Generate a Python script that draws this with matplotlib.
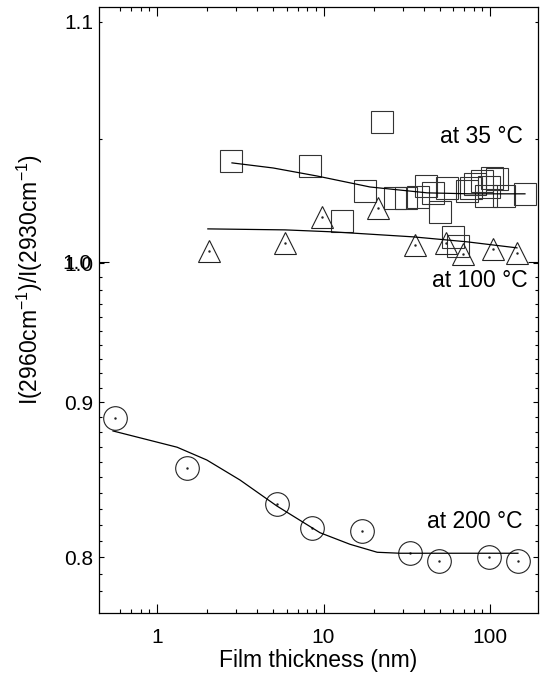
import numpy as np
import matplotlib
matplotlib.use('Agg')
import matplotlib.pyplot as plt

plt.rcParams['font.family'] = ['Liberation Sans', 'DejaVu Sans']
plt.rcParams['mathtext.fontset'] = 'custom'
plt.rcParams['mathtext.rm'] = 'Liberation Sans'

# 200 C (lower axis)
x200 = [0.559, 1.51, 5.25, 8.53, 17.0, 33.1, 49.5, 98.6, 147]
y200 = [0.8892, 0.8559, 0.8330, 0.8178, 0.8160, 0.8024, 0.7976, 0.8000, 0.7976]
fit200_x = [0.544, 1.32, 1.99, 3.15, 5.25, 9.53, 14.4, 21.0, 28.8, 147]
fit200_y = [0.8805, 0.8697, 0.8613, 0.8483, 0.8317, 0.8150, 0.8079, 0.8030, 0.8024, 0.8024]

# 35 C (upper axis)
x35 = [2.78, 8.30, 22.5, 17.8, 12.9, 26.9, 31.3, 36.9, 41.3, 50.1, 45.5, 55.2,
       59.9, 64.2, 72.8, 76.9, 81.3, 89.5, 94.6, 98.6, 102.8, 110.2, 121.4, 162.3]
y35 = [1.0409, 1.0389, 1.0572, 1.0286, 1.0164, 1.0257, 1.0257, 1.0261, 1.0306, 1.0200,
       1.0278, 1.0298, 1.0100, 1.0064, 1.0286, 1.0298, 1.0315, 1.0327, 1.0265, 1.0302,
       1.0339, 1.0335, 1.0265, 1.0274]
fit35_x = [2.82, 4.98, 9.13, 19.0, 41.9, 76.1, 162]
fit35_y = [1.0401, 1.0380, 1.0347, 1.0302, 1.0278, 1.0274, 1.0274]

# 100 C (upper axis)
x100 = [2.05, 5.87, 9.80, 21.2, 35.4, 54.4, 68.8, 104.2, 145]
y100 = [1.0044, 1.0076, 1.0180, 1.0217, 1.0068, 1.0076, 1.0032, 1.0052, 1.0036]
fit100_x = [2.02, 5.88, 11.4, 34.5, 72.9, 145]
fit100_y = [1.0132, 1.0128, 1.0120, 1.0100, 1.0080, 1.0056]

x_major = [1, 10, 100]
x_minor = [0.6, 0.7, 0.8, 0.9, 2, 3, 4, 5, 6, 7, 8, 9, 20, 30, 40, 50, 60, 70, 80, 90]

fig = plt.figure(figsize=(5.44, 6.75), dpi=100)
rect = [99 / 544, 62 / 675, 439 / 544, 606 / 675]
ax = fig.add_axes(rect)
ax2 = fig.add_axes(rect, sharex=ax)
ax2.patch.set_visible(False)
for s in ax2.spines.values():
    s.set_visible(False)

ink = '#222222'
mk = dict(mfc='none', mec=ink, mew=0.8, ls='none')

# lower axis: 200 C
ax.plot(x200, y200, marker='o', ms=17, **mk)
ax.plot(x200, y200, marker='.', ms=1.5, color=ink, ls='none')
ax.plot(fit200_x, fit200_y, color='black', lw=0.9)

ax.set_xscale('log')
ax.set_yscale('log')
ax.set_xlim(0.4484, 194)
ax.set_ylim(0.7668, 1.215)
ax.set_xticks(x_major, labels=['1', '10', '100'])
ax.set_xticks(x_minor, minor=True, labels=[])
ax.set_yticks([0.8, 0.9, 1.0], labels=['0.8', '0.9', '1.0'])
ax.set_yticks([v / 100 for v in range(78, 100) if v % 10], minor=True, labels=[])
ax.tick_params(which='both', direction='in', top=True, right=True, labelsize=15, colors='black')
ax.tick_params(axis='x', which='major', length=6.5, width=0.8, pad=11)
ax.tick_params(axis='x', which='minor', length=3, width=0.8)
ax.tick_params(axis='y', which='major', length=3.5, width=0.8, pad=4)
ax.tick_params(axis='y', which='minor', length=2, width=0.8)
for s in ax.spines.values():
    s.set_linewidth(0.9)

# upper axis: 35 C and 100 C
ax2.plot(x35, y35, marker='s', ms=16, **{**mk, 'mec': '#333333'})
ax2.plot(fit35_x, fit35_y, color='black', lw=0.9)
ax2.plot(x100, y100, marker='^', ms=16, **mk)
ax2.plot(x100, y100, marker='.', ms=1.5, color=ink, ls='none')
ax2.plot(fit100_x, fit100_y, color='black', lw=0.9)

ax2.set_yscale('log')
ax2.set_ylim(0.8699, 1.1065)
ax2.set_yticks([1.0], labels=['1.0'])
ax2.set_yticks([1.05, 1.1], labels=['', '1.1'], minor=True)
ax2.tick_params(axis='x', which='both', bottom=False, top=False, labelbottom=False)
ax2.tick_params(axis='y', which='both', direction='in', left=True, right=True, labelsize=15)
ax2.tick_params(axis='y', which='major', length=7, width=0.8, pad=5.5)
ax2.tick_params(axis='y', which='minor', length=2, width=0.8, pad=4)

ax.set_xlabel('Film thickness (nm)', fontsize=16.5, labelpad=1)
ax.set_ylabel(r'I(2960cm$^{\mathregular{-1}}$)/I(2930cm$^{\mathregular{-1}}$)', fontsize=16.5)
ax.yaxis.set_label_coords(-0.123, 0.55)

ax.text(0.966, 0.7756, 'at 35 °C', transform=ax.transAxes, ha='right', va='baseline', fontsize=16.5)
ax.text(0.977, 0.538, 'at 100 °C', transform=ax.transAxes, ha='right', va='baseline', fontsize=16.5)
ax.text(0.9636, 0.140, 'at 200 °C', transform=ax.transAxes, ha='right', va='baseline', fontsize=16.5)

fig.savefig('out.png', dpi=100)
